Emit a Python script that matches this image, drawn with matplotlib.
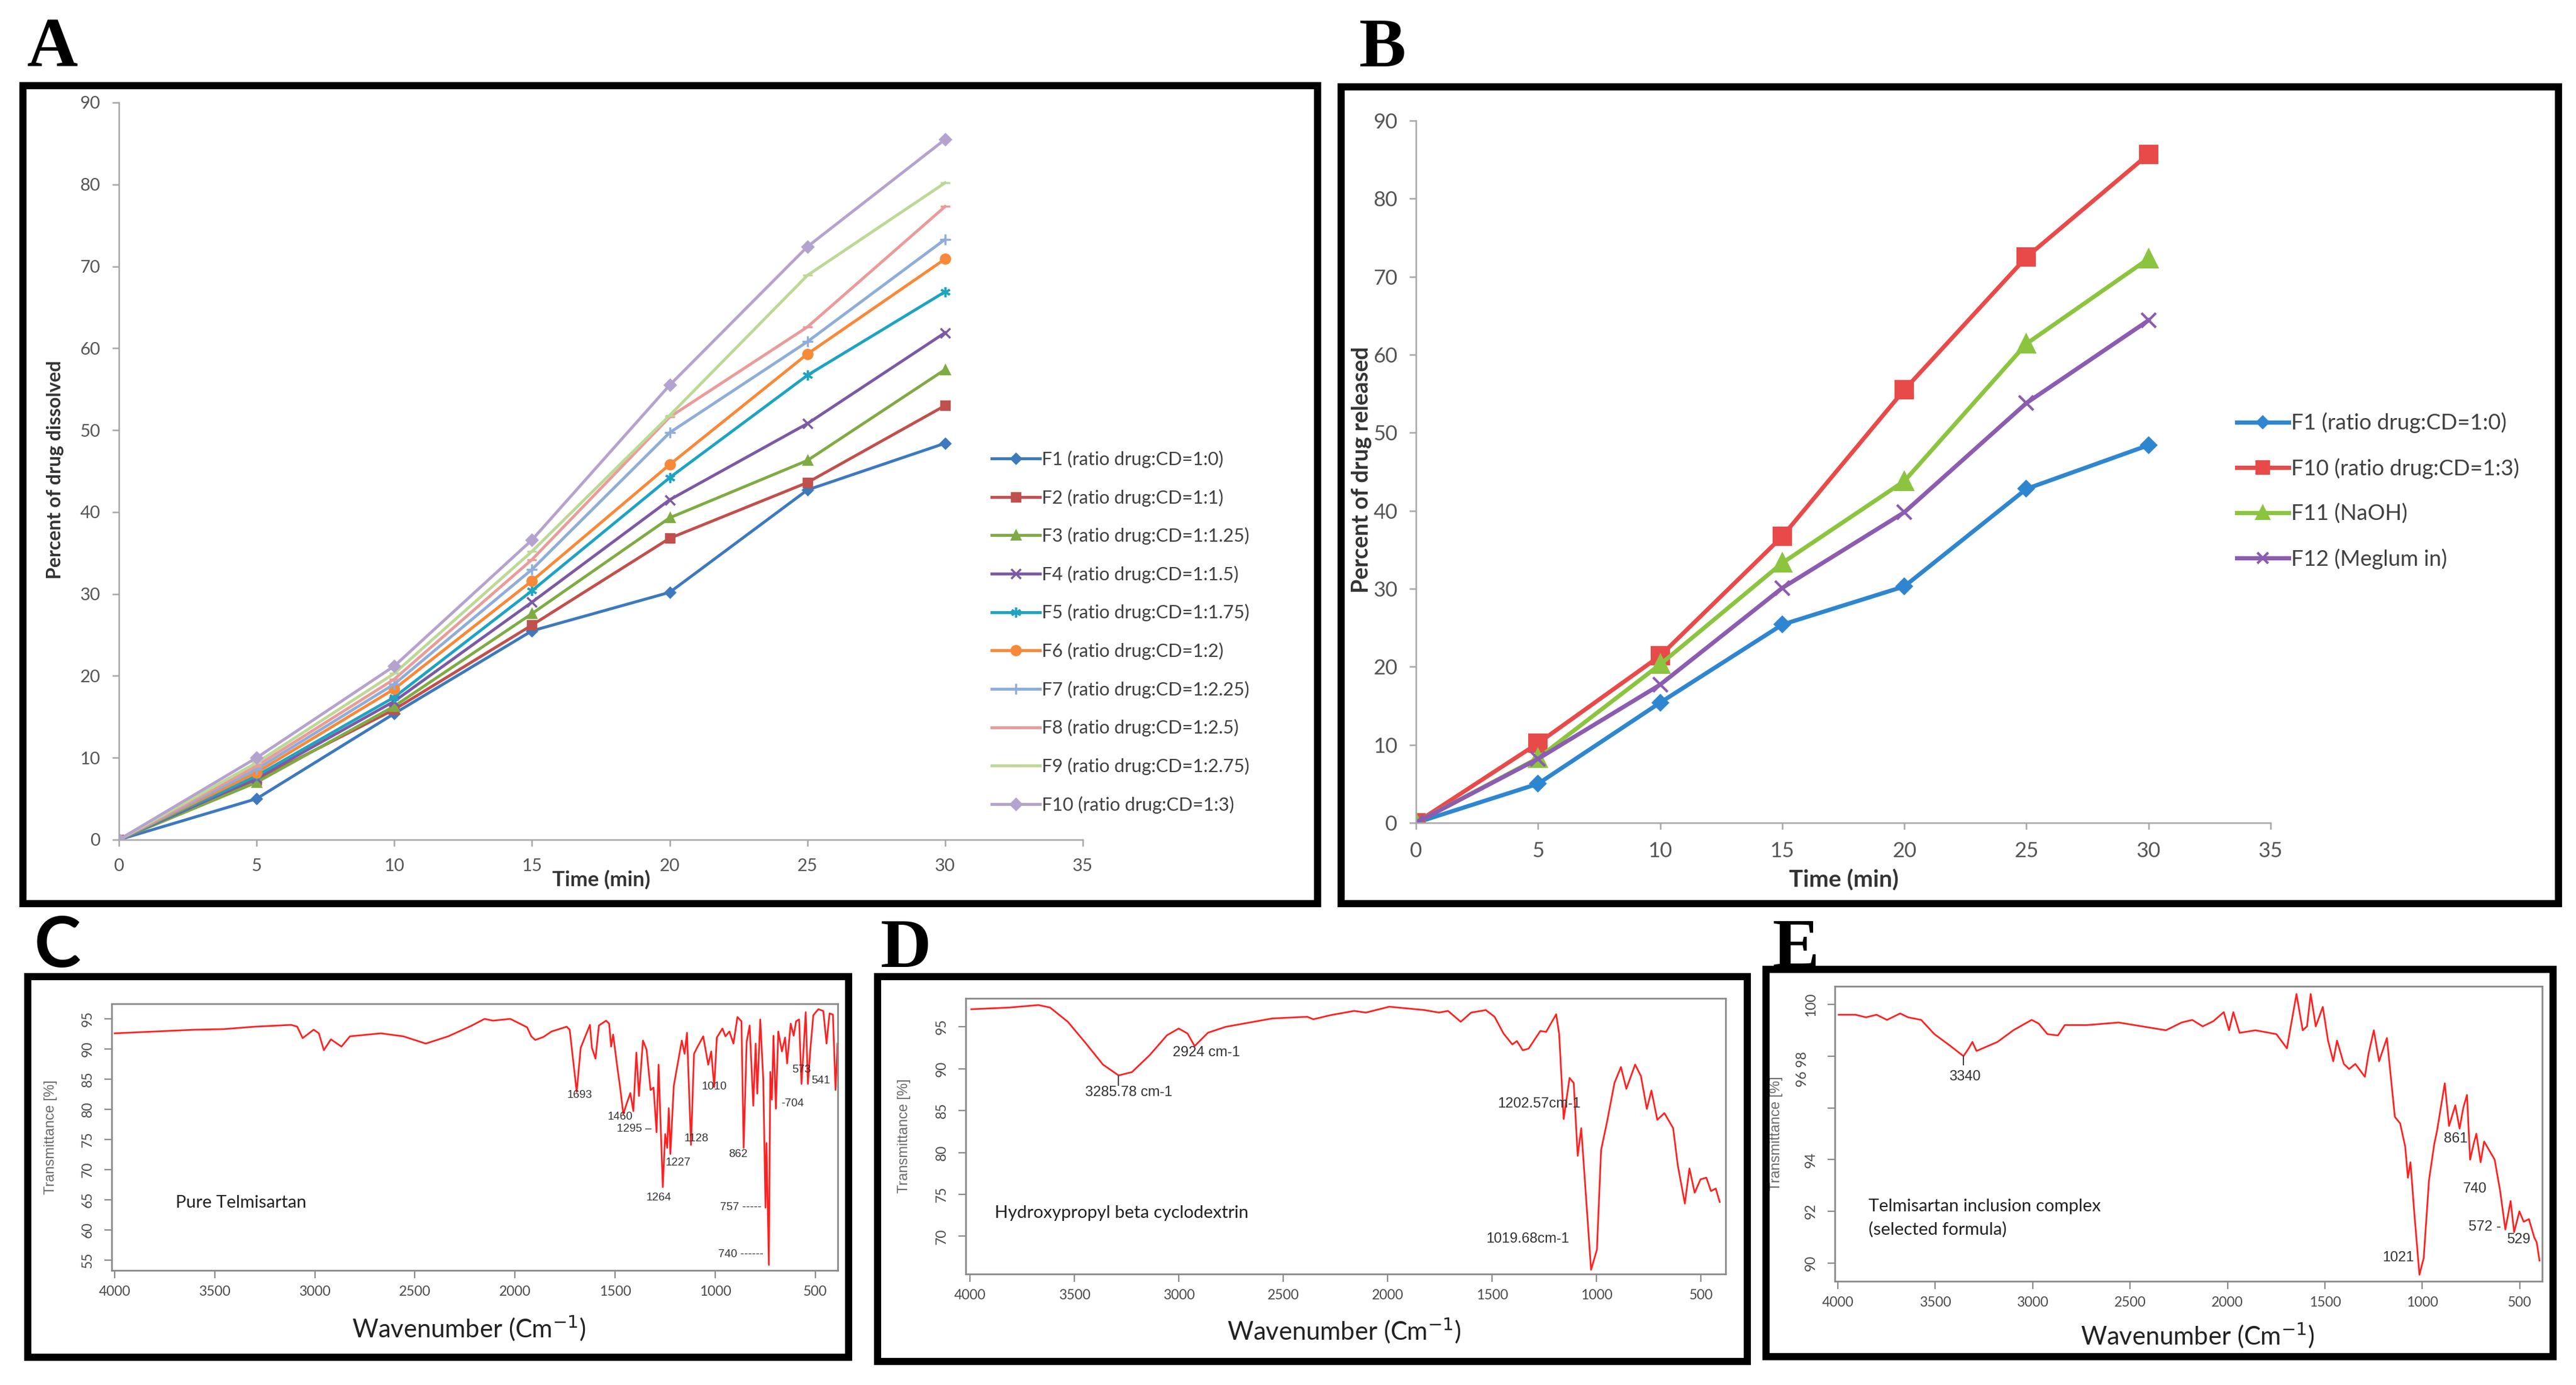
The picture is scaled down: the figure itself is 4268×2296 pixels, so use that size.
import matplotlib.pyplot as plt
from matplotlib.patches import Rectangle

W, H = 4268, 2296
plt.rcParams['font.family'] = ['Lato', 'DejaVu Sans']

# ---- dissolution data (panels A and B) ----
time_min = [0, 5, 10, 15, 20, 25, 30]

a_labels = ["F1 (ratio drug:CD=1:0)", "F2 (ratio drug:CD=1:1)", "F3 (ratio drug:CD=1:1.25)",
            "F4 (ratio drug:CD=1:1.5)", "F5 (ratio drug:CD=1:1.75)", "F6 (ratio drug:CD=1:2)",
            "F7 (ratio drug:CD=1:2.25)", "F8 (ratio drug:CD=1:2.5)", "F9 (ratio drug:CD=1:2.75)",
            "F10 (ratio drug:CD=1:3)"]
a_f1 = [0, 5.0, 15.4, 25.5, 30.2, 42.7, 48.4]
a_f2 = [0, 7.3, 15.9, 26.2, 36.8, 43.6, 53.0]
a_f3 = [0, 7.0, 16.3, 27.6, 39.3, 46.3, 57.4]
a_f4 = [0, 7.5, 16.9, 29.0, 41.5, 50.8, 61.9]
a_f5 = [0, 7.8, 17.4, 30.4, 44.2, 56.7, 66.9]
a_f6 = [0, 8.2, 18.4, 31.6, 45.8, 59.3, 70.9]
a_f7 = [0, 8.6, 19.0, 33.0, 49.7, 60.8, 73.3]
a_f8 = [0, 9.0, 19.6, 34.2, 51.6, 62.6, 77.3]
a_f9 = [0, 9.4, 20.3, 35.2, 51.8, 68.9, 80.2]
a_f10 = [0, 10.0, 21.2, 36.6, 55.5, 72.4, 85.5]
a_series = [a_f1, a_f2, a_f3, a_f4, a_f5, a_f6, a_f7, a_f8, a_f9, a_f10]

b_labels = ["F1 (ratio drug:CD=1:0)", "F10 (ratio drug:CD=1:3)", "F11 (NaOH)", "F12 (Meglum in)"]
b_f1 = [0, 5.0, 15.4, 25.4, 30.3, 42.8, 48.4]
b_f10 = [0, 10.2, 21.4, 36.7, 55.5, 72.5, 85.7]
b_f11 = [0, 8.3, 20.3, 33.3, 43.8, 61.4, 72.3]
b_f12 = [0, 8.2, 17.7, 30.1, 39.8, 53.8, 64.4]
b_series = [b_f1, b_f10, b_f11, b_f12]

# ---- FTIR spectra (panels C, D, E) ----
c_wn = [4000, 3800, 3600, 3455, 3300, 3118, 3088, 3061, 3006, 2980, 2955, 2920, 2867, 2825,
        2670, 2558, 2446, 2334, 2221, 2152, 2110, 2024, 1940, 1919, 1899, 1858, 1818, 1742,
        1727, 1692, 1672, 1626, 1616, 1598, 1581, 1545, 1530, 1520, 1510, 1490, 1475, 1459,
        1446, 1424, 1409, 1394, 1381, 1361, 1343, 1323, 1308, 1293, 1283, 1262, 1250, 1240,
        1232, 1224, 1207, 1167, 1153, 1141, 1121, 1106, 1091, 1060, 1035, 1020, 1005, 992,
        964, 949, 929, 909, 889, 869, 858, 843, 828, 810, 798, 790, 775, 760, 749, 744, 732,
        725, 717, 709, 697, 685, 667, 651, 641, 623, 608, 596, 581, 569, 548, 537, 525, 510,
        485, 460, 444, 429, 412, 399, 389]
c_t = [92.6, 92.9, 93.2, 93.3, 93.7, 94.0, 93.7, 91.8, 93.2, 92.6, 89.8, 91.6, 90.4, 92.1,
       92.6, 92.1, 90.9, 92.1, 93.8, 95.0, 94.7, 95.0, 93.6, 92.1, 91.5, 92.0, 92.9, 93.7,
       93.2, 82.9, 90.2, 94.0, 90.2, 88.4, 93.9, 94.7, 94.2, 90.4, 92.4, 87.2, 83.6, 79.2,
       80.6, 82.7, 79.7, 89.4, 82.2, 91.4, 89.9, 83.2, 83.6, 76.2, 87.4, 67.1, 75.9, 73.6,
       80.2, 72.6, 83.9, 91.4, 89.2, 92.7, 74.1, 89.2, 90.2, 92.1, 87.4, 89.6, 83.7, 91.9,
       93.4, 92.1, 92.9, 90.9, 95.3, 94.6, 73.6, 91.2, 93.9, 80.6, 90.9, 82.6, 94.9, 84.9,
       63.7, 74.4, 54.2, 86.2, 81.6, 92.2, 80.1, 92.9, 89.6, 91.9, 87.6, 94.2, 92.2, 94.6,
       94.9, 84.2, 96.1, 84.2, 89.9, 95.6, 96.6, 96.3, 90.9, 95.9, 95.7, 83.2, 90.9]

d_wn = [3993, 3812, 3672, 3616, 3531, 3447, 3363, 3288, 3224, 3140, 3056, 3000, 2958, 2924,
        2860, 2775, 2664, 2552, 2384, 2356, 2272, 2160, 2104, 1992, 1824, 1754, 1711, 1650,
        1600, 1530, 1488, 1445, 1403, 1381, 1353, 1325, 1269, 1241, 1193, 1179, 1157, 1129,
        1109, 1090, 1073, 1026, 998, 978, 950, 914, 883, 857, 815, 787, 759, 737, 709, 675,
        633, 611, 577, 555, 530, 502, 474, 452, 429, 410]
d_t = [97.1, 97.3, 97.6, 97.3, 95.6, 93.1, 90.5, 89.2, 89.6, 91.6, 94.0, 94.8, 94.2, 92.7,
       94.3, 95.0, 95.5, 96.0, 96.2, 95.9, 96.4, 96.9, 96.7, 97.4, 97.0, 96.7, 96.9, 95.6,
       96.7, 97.0, 96.2, 94.2, 92.9, 93.3, 92.2, 92.4, 94.5, 94.4, 96.5, 94.2, 84.0, 88.9,
       88.3, 79.6, 82.9, 66.0, 68.4, 80.3, 83.6, 88.3, 90.2, 87.6, 90.5, 89.1, 85.2, 87.4,
       83.9, 84.7, 82.9, 78.5, 73.9, 78.1, 75.2, 76.8, 77.0, 75.4, 75.7, 74.1]

e_wn = [3995, 3909, 3855, 3801, 3747, 3680, 3639, 3572, 3504, 3423, 3355, 3328, 3309, 3288,
        3180, 3099, 3005, 2969, 2924, 2870, 2835, 2721, 2559, 2397, 2316, 2235, 2181, 2127,
        2073, 2019, 1992, 1970, 1938, 1857, 1749, 1695, 1646, 1614, 1592, 1573, 1547, 1511,
        1484, 1457, 1438, 1403, 1376, 1344, 1295, 1276, 1249, 1222, 1182, 1141, 1114, 1088,
        1074, 1061, 1042, 1015, 993, 966, 939, 925, 885, 863, 831, 809, 790, 771, 755, 737,
        723, 701, 683, 629, 601, 574, 547, 529, 502, 480, 453, 426, 413, 399]
e_t = [99.6, 99.6, 99.5, 99.6, 99.4, 99.65, 99.5, 99.4, 98.85, 98.4, 98.0, 98.3, 98.55, 98.2,
       98.55, 99.0, 99.4, 99.26, 98.85, 98.8, 99.2, 99.2, 99.3, 99.1, 99.0, 99.3, 99.4, 99.15,
       99.35, 99.7, 99.0, 99.7, 98.9, 99.0, 98.85, 98.3, 100.4, 99.0, 99.15, 100.4, 99.15, 99.9,
       98.6, 97.8, 98.6, 97.7, 97.5, 97.7, 97.2, 98.1, 99.0, 97.8, 98.7, 95.65, 95.4, 94.5,
       93.3, 93.9, 92.0, 89.55, 90.2, 93.2, 94.6, 95.1, 96.95, 95.3, 96.1, 95.2, 96.0, 96.5,
       94.0, 94.6, 95.0, 93.9, 94.7, 94.0, 92.8, 91.3, 92.4, 91.2, 92.0, 91.6, 91.7, 91.0,
       90.8, 90.1]

# peak labels: text, wavenumber, transmittance
c_peaks = [("1693", 1739, 82.4), ("1460", 1537, 78.7), ("1295 \u2013", 1490, 76.8),
           ("1264", 1345, 65.4), ("1227", 1247, 71.2), ("1128", 1156, 75.2),
           ("1010", 1066, 83.8), ("862", 934, 72.5), ("757 -----", 975, 63.7),
           ("740 ------", 985, 56.0), ("-704", 672, 81.0), ("573", 616, 86.5), ("541", 520, 84.7)]
d_peaks = [("2924 cm-1", 3028, 91.9), ("3285.78 cm-1", 3447, 87.2),
           ("1202.57cm-1", 1474, 85.8), ("1019.68cm-1", 1529, 69.7)]
e_peaks = [("3340", 3428, 97.2), ("861", 890, 94.8), ("740", 790, 92.87), ("572 -", 764, 91.4),
           ("529", 566, 90.9), ("1021", 1204, 90.2)]


def fbox(x0, y0, x1, y1):
    # pixel box -> figure fraction [left, bottom, width, height]
    return [x0 / W, 1 - y1 / H, (x1 - x0) / W, (y1 - y0) / H]


fig = plt.figure(figsize=(W / 100, H / 100), dpi=100)


def frame(x0, y0, x1, y1):
    l, b, w, h = fbox(x0, y0, x1, y1)
    fig.add_artist(Rectangle((l, b), w, h, transform=fig.transFigure, fill=False,
                             lw=8.5, ec='black', zorder=10))


def letter(txt, px, py, family='Liberation Serif'):
    fig.text(px / W, 1 - py / H, txt, fontsize=84, fontweight='bold', family=family,
             ha='center', va='center')


axis_grey = '#8a8a8a'

# ---------- panel A ----------
frame(38, 142, 2183, 1498)
letter('A', 87, 82)
axA = fig.add_axes(fbox(197, 170, 1794, 1392))
a_colors = ['#3D79BD', '#C0504D', '#7FAB45', '#7B5AA3', '#1FA3C0', '#F7893A',
            '#8FADD8', '#E99C9A', '#BED896', '#B5A3CF']
a_markers = ['D', 's', '^', 'x', (6, 2, 0), 'o', '+', '_', '_', 'D']
a_ms = [8, 10, 10, 11, 12, 11, 13, 12, 12, 9]
for vals, lab, col, mk, ms in zip(a_series, a_labels, a_colors, a_markers, a_ms):
    axA.plot(time_min, vals, color=col, lw=3.5, marker=mk, ms=ms, mec=col, mfc=col,
             mew=2.5, label=lab)
axA.set_xlim(0, 35)
axA.set_ylim(0, 90)
axA.set_xticks(range(0, 36, 5))
axA.set_yticks(range(0, 91, 10))
for s in ['top', 'right']:
    axA.spines[s].set_visible(False)
for s in ['left', 'bottom']:
    axA.spines[s].set_color('#a6a6a6')
    axA.spines[s].set_linewidth(1.8)
axA.tick_params(labelsize=21, colors='#a6a6a6', labelcolor='#555555', length=8, width=1.8,
                pad=14)
axA.legend(loc='upper left', bbox_to_anchor=(0.898, 0.538), frameon=False, fontsize=22,
           labelspacing=1.13, handlelength=2.6, handletextpad=0.1, borderaxespad=0,
           labelcolor='#404040')
fig.text(996 / W, 1 - 1458 / H, 'Time (min)', fontsize=25, fontweight='bold',
         ha='center', va='center', color='#333333')
fig.text(92 / W, 1 - 779 / H, 'Percent of drug dissolved', fontsize=23, fontweight='bold',
         rotation=90, ha='center', va='center', color='#333333')

# ---------- panel B ----------
frame(2222, 144, 4239, 1498)
letter('B', 2290, 82)
axB = fig.add_axes(fbox(2346, 200, 3762, 1364))
b_colors = ['#2F86D0', '#E84A4A', '#8CC43F', '#8B5CB0']
b_markers = ['D', 's', '^', 'x']
b_ms = [12, 20, 20, 17]
for vals, lab, col, mk, ms in zip(b_series, b_labels, b_colors, b_markers, b_ms):
    axB.plot(time_min, vals, color=col, lw=5, marker=mk, ms=ms, mec=col, mfc=col,
             mew=3, label=lab)
axB.set_xlim(0, 35)
axB.set_ylim(0, 90)
axB.set_xticks(range(0, 36, 5))
axB.set_yticks(range(0, 91, 10))
for s in ['top', 'right']:
    axB.spines[s].set_visible(False)
for s in ['left', 'bottom']:
    axB.spines[s].set_color('#a6a6a6')
    axB.spines[s].set_linewidth(1.8)
axB.tick_params(labelsize=25, colors='#a6a6a6', labelcolor='#555555', length=8, width=1.8,
                pad=14)
axB.legend(loc='upper left', bbox_to_anchor=(0.95, 0.597), frameon=False, fontsize=26,
           labelspacing=1.13, handlelength=2.4, handletextpad=0.1, borderaxespad=0,
           labelcolor='#404040', markerscale=0.75)
fig.text(3055 / W, 1 - 1458 / H, 'Time (min)', fontsize=28, fontweight='bold',
         ha='center', va='center', color='#333333')
fig.text(2256 / W, 1 - 779 / H, 'Percent of drug released', fontsize=27, fontweight='bold',
         rotation=90, ha='center', va='center', color='#333333')


# ---------- FTIR panels ----------
def ir_axes(box, xlim, ylim, yticks, wn, t, ylab_x):
    ax = fig.add_axes(fbox(*box))
    ax.plot(wn, t, color='#ff2020', lw=2.0)
    ax.set_xlim(*xlim)
    ax.set_ylim(*ylim)
    ax.set_xticks(range(4000, 499, -500))
    ax.set_yticks(yticks)
    for s in ax.spines.values():
        s.set_color(axis_grey)
        s.set_linewidth(2)
    ax.tick_params(labelsize=16.5, colors=axis_grey, labelcolor='#4a4a4a', length=9,
                   width=1.6, pad=9)
    ax.tick_params(axis='y', pad=12)
    for lab in ax.get_yticklabels():
        lab.set_rotation(90)
        lab.set_va('center')
    ax.set_ylabel('Transmittance [%]', fontsize=17, color='#6a6a6a', family='Liberation Sans')
    ax.yaxis.set_label_coords(ylab_x, 0.5)
    return ax


def wavenumber(px, py):
    fig.text(px / W, 1 - py / H, 'Wavenumber (Cm$^{-1}$)', fontsize=30, ha='center',
             va='center', color='#222222')


# panel C
frame(46, 1619, 1406, 2250)
letter('C', 95, 1569, family='Lato')
axC = ir_axes((185, 1664, 1388, 2106), (4015, 388), (53.3, 97.5), range(55, 96, 5),
              c_wn, c_t, -0.075)
for txt, x, y in c_peaks:
    axC.text(x, y, txt, fontsize=13.5, ha='left', va='center', color='#333333',
             family='Liberation Sans')
axC.text(3696, 64.5, 'Pure Telmisartan', fontsize=21, ha='left', va='center', color='#222222')
wavenumber(777, 2202)

# panel D
frame(1454, 1619, 2895, 2257)
letter('D', 1501, 1575)
axD = ir_axes((1600, 1655, 2859, 2112), (4020, 382), (65.5, 98.4), range(70, 96, 5),
              d_wn, d_t, -0.072)
for txt, x, y in d_peaks:
    axD.text(x, y, txt, fontsize=17, ha='left', va='center', color='#333333',
             family='Liberation Sans')
axD.plot([3288, 3288], [89.1, 88.0], color='#444444', lw=1.5)
axD.text(3881, 72.8, 'Hydroxypropyl beta cyclodextrin', fontsize=21, ha='left',
         va='center', color='#222222')
wavenumber(2227, 2206)

# panel E
frame(2926, 1607, 4230, 2249)
letter('E', 2975, 1575)
axE = ir_axes((3040, 1635, 4212, 2124), (4015, 385), (89.3, 100.7), [90, 92, 94, 96, 98, 100],
              e_wn, e_t, -0.073)
axE.set_yticklabels(['90', '92', '94', '', '', '100'])
axE.text(-0.0455, 97.5, '96 98', transform=axE.get_yaxis_transform(), rotation=90,
         fontsize=16.5, ha='center', va='center', color='#4a4a4a')
for txt, x, y in e_peaks:
    axE.text(x, y, txt, fontsize=17, ha='left', va='center', color='#333333',
             family='Liberation Sans')
axE.plot([3356, 3356], [98.0, 97.66], color='#444444', lw=1.5)
axE.text(3841, 92.2, 'Telmisartan inclusion complex', fontsize=21, ha='left', va='center',
         color='#222222')
axE.text(3841, 91.3, '(selected formula)', fontsize=21, ha='left', va='center',
         color='#222222')
wavenumber(3641, 2214)

fig.savefig('out.png', dpi=100)
